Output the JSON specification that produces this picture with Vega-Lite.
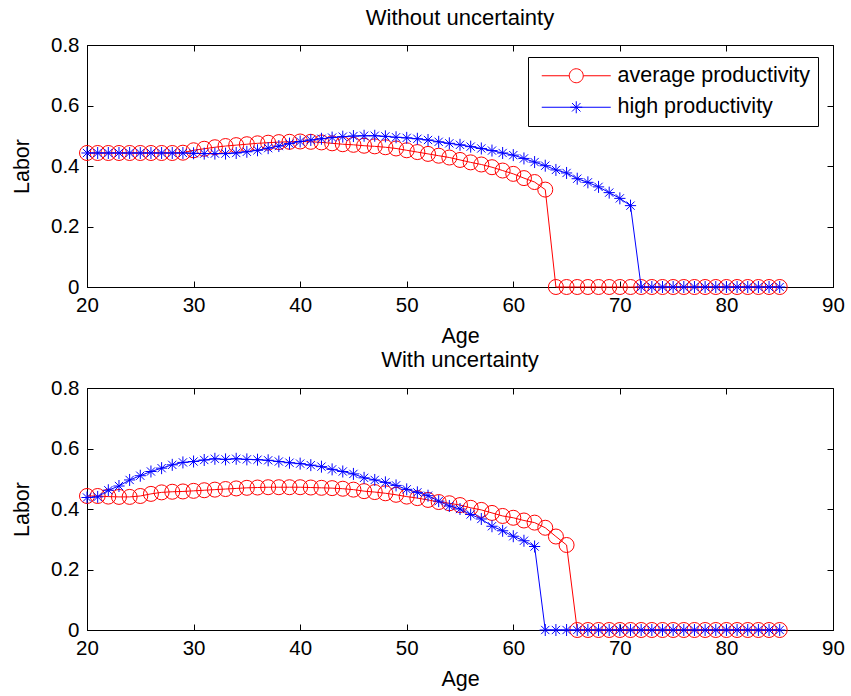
{
  "$schema": "https://vega.github.io/schema/vega-lite/v6.json",
  "background": "white",
  "padding": {"left": 10, "top": 6, "right": 5, "bottom": 5},
  "spacing": 0,
  "config": {
    "font": "Liberation Sans",
    "view": {"stroke": "black", "strokeWidth": 1},
    "axis": {
      "domainColor": "black", "tickColor": "black", "labelColor": "black", "titleColor": "black",
      "labelFontSize": 20.5, "titleFontSize": 21.5, "titleFontWeight": "normal",
      "grid": false, "tickSize": -6, "labelPadding": 14, "labelFlush": false, "labelOverlap": false
    },
    "title": {"fontSize": 22, "fontWeight": "normal", "color": "black", "offset": 8}
  },
  "resolve": {"scale": {"color": "independent", "shape": "independent"}, "legend": {"color": "independent", "shape": "independent"}},
  "datasets": {
    "without": [
      {"age":20,"series":"average productivity","labor":0.443},{"age":21,"series":"average productivity","labor":0.443},{"age":22,"series":"average productivity","labor":0.443},{"age":23,"series":"average productivity","labor":0.443},{"age":24,"series":"average productivity","labor":0.443},{"age":25,"series":"average productivity","labor":0.443},{"age":26,"series":"average productivity","labor":0.443},{"age":27,"series":"average productivity","labor":0.443},{"age":28,"series":"average productivity","labor":0.443},{"age":29,"series":"average productivity","labor":0.444},
      {"age":30,"series":"average productivity","labor":0.452},{"age":31,"series":"average productivity","labor":0.457},{"age":32,"series":"average productivity","labor":0.462},{"age":33,"series":"average productivity","labor":0.466},{"age":34,"series":"average productivity","labor":0.469},{"age":35,"series":"average productivity","labor":0.472},{"age":36,"series":"average productivity","labor":0.475},{"age":37,"series":"average productivity","labor":0.477},{"age":38,"series":"average productivity","labor":0.479},{"age":39,"series":"average productivity","labor":0.480},
      {"age":40,"series":"average productivity","labor":0.481},{"age":41,"series":"average productivity","labor":0.480},{"age":42,"series":"average productivity","labor":0.478},{"age":43,"series":"average productivity","labor":0.475},{"age":44,"series":"average productivity","labor":0.472},{"age":45,"series":"average productivity","labor":0.470},{"age":46,"series":"average productivity","labor":0.467},{"age":47,"series":"average productivity","labor":0.465},{"age":48,"series":"average productivity","labor":0.462},{"age":49,"series":"average productivity","labor":0.458},
      {"age":50,"series":"average productivity","labor":0.452},{"age":51,"series":"average productivity","labor":0.446},{"age":52,"series":"average productivity","labor":0.440},{"age":53,"series":"average productivity","labor":0.434},{"age":54,"series":"average productivity","labor":0.428},{"age":55,"series":"average productivity","labor":0.420},{"age":56,"series":"average productivity","labor":0.412},{"age":57,"series":"average productivity","labor":0.405},{"age":58,"series":"average productivity","labor":0.396},{"age":59,"series":"average productivity","labor":0.385},
      {"age":60,"series":"average productivity","labor":0.374},{"age":61,"series":"average productivity","labor":0.360},{"age":62,"series":"average productivity","labor":0.347},{"age":63,"series":"average productivity","labor":0.322},{"age":64,"series":"average productivity","labor":0},{"age":65,"series":"average productivity","labor":0},{"age":66,"series":"average productivity","labor":0},{"age":67,"series":"average productivity","labor":0},{"age":68,"series":"average productivity","labor":0},{"age":69,"series":"average productivity","labor":0},
      {"age":70,"series":"average productivity","labor":0},{"age":71,"series":"average productivity","labor":0},{"age":72,"series":"average productivity","labor":0},{"age":73,"series":"average productivity","labor":0},{"age":74,"series":"average productivity","labor":0},{"age":75,"series":"average productivity","labor":0},{"age":76,"series":"average productivity","labor":0},{"age":77,"series":"average productivity","labor":0},{"age":78,"series":"average productivity","labor":0},{"age":79,"series":"average productivity","labor":0},
      {"age":80,"series":"average productivity","labor":0},{"age":81,"series":"average productivity","labor":0},{"age":82,"series":"average productivity","labor":0},{"age":83,"series":"average productivity","labor":0},{"age":84,"series":"average productivity","labor":0},{"age":85,"series":"average productivity","labor":0},
      {"age":20,"series":"high productivity","labor":0.443},{"age":21,"series":"high productivity","labor":0.443},{"age":22,"series":"high productivity","labor":0.443},{"age":23,"series":"high productivity","labor":0.443},{"age":24,"series":"high productivity","labor":0.443},{"age":25,"series":"high productivity","labor":0.443},{"age":26,"series":"high productivity","labor":0.443},{"age":27,"series":"high productivity","labor":0.443},{"age":28,"series":"high productivity","labor":0.443},{"age":29,"series":"high productivity","labor":0.443},
      {"age":30,"series":"high productivity","labor":0.442},{"age":31,"series":"high productivity","labor":0.441},{"age":32,"series":"high productivity","labor":0.441},{"age":33,"series":"high productivity","labor":0.441},{"age":34,"series":"high productivity","labor":0.443},{"age":35,"series":"high productivity","labor":0.447},{"age":36,"series":"high productivity","labor":0.452},{"age":37,"series":"high productivity","labor":0.459},{"age":38,"series":"high productivity","labor":0.466},{"age":39,"series":"high productivity","labor":0.474},
      {"age":40,"series":"high productivity","labor":0.481},{"age":41,"series":"high productivity","labor":0.486},{"age":42,"series":"high productivity","labor":0.490},{"age":43,"series":"high productivity","labor":0.494},{"age":44,"series":"high productivity","labor":0.497},{"age":45,"series":"high productivity","labor":0.499},{"age":46,"series":"high productivity","labor":0.500},{"age":47,"series":"high productivity","labor":0.500},{"age":48,"series":"high productivity","labor":0.498},{"age":49,"series":"high productivity","labor":0.495},
      {"age":50,"series":"high productivity","labor":0.493},{"age":51,"series":"high productivity","labor":0.490},{"age":52,"series":"high productivity","labor":0.486},{"age":53,"series":"high productivity","labor":0.480},{"age":54,"series":"high productivity","labor":0.475},{"age":55,"series":"high productivity","labor":0.470},{"age":56,"series":"high productivity","labor":0.464},{"age":57,"series":"high productivity","labor":0.458},{"age":58,"series":"high productivity","labor":0.451},{"age":59,"series":"high productivity","labor":0.443},
      {"age":60,"series":"high productivity","labor":0.436},{"age":61,"series":"high productivity","labor":0.425},{"age":62,"series":"high productivity","labor":0.413},{"age":63,"series":"high productivity","labor":0.401},{"age":64,"series":"high productivity","labor":0.387},{"age":65,"series":"high productivity","labor":0.377},{"age":66,"series":"high productivity","labor":0.358},{"age":67,"series":"high productivity","labor":0.346},{"age":68,"series":"high productivity","labor":0.331},{"age":69,"series":"high productivity","labor":0.312},
      {"age":70,"series":"high productivity","labor":0.293},{"age":71,"series":"high productivity","labor":0.269},{"age":72,"series":"high productivity","labor":0},{"age":73,"series":"high productivity","labor":0},{"age":74,"series":"high productivity","labor":0},{"age":75,"series":"high productivity","labor":0},{"age":76,"series":"high productivity","labor":0},{"age":77,"series":"high productivity","labor":0},{"age":78,"series":"high productivity","labor":0},{"age":79,"series":"high productivity","labor":0},
      {"age":80,"series":"high productivity","labor":0},{"age":81,"series":"high productivity","labor":0},{"age":82,"series":"high productivity","labor":0},{"age":83,"series":"high productivity","labor":0},{"age":84,"series":"high productivity","labor":0},{"age":85,"series":"high productivity","labor":0}
    ],
    "with": [
      {"age":20,"series":"average productivity","labor":0.443},{"age":21,"series":"average productivity","labor":0.443},{"age":22,"series":"average productivity","labor":0.441},{"age":23,"series":"average productivity","labor":0.440},{"age":24,"series":"average productivity","labor":0.440},{"age":25,"series":"average productivity","labor":0.443},{"age":26,"series":"average productivity","labor":0.450},{"age":27,"series":"average productivity","labor":0.455},{"age":28,"series":"average productivity","labor":0.457},{"age":29,"series":"average productivity","labor":0.458},
      {"age":30,"series":"average productivity","labor":0.460},{"age":31,"series":"average productivity","labor":0.462},{"age":32,"series":"average productivity","labor":0.464},{"age":33,"series":"average productivity","labor":0.466},{"age":34,"series":"average productivity","labor":0.468},{"age":35,"series":"average productivity","labor":0.470},{"age":36,"series":"average productivity","labor":0.471},{"age":37,"series":"average productivity","labor":0.472},{"age":38,"series":"average productivity","labor":0.472},{"age":39,"series":"average productivity","labor":0.472},
      {"age":40,"series":"average productivity","labor":0.472},{"age":41,"series":"average productivity","labor":0.471},{"age":42,"series":"average productivity","labor":0.470},{"age":43,"series":"average productivity","labor":0.469},{"age":44,"series":"average productivity","labor":0.467},{"age":45,"series":"average productivity","labor":0.464},{"age":46,"series":"average productivity","labor":0.459},{"age":47,"series":"average productivity","labor":0.456},{"age":48,"series":"average productivity","labor":0.452},{"age":49,"series":"average productivity","labor":0.447},
      {"age":50,"series":"average productivity","labor":0.441},{"age":51,"series":"average productivity","labor":0.436},{"age":52,"series":"average productivity","labor":0.430},{"age":53,"series":"average productivity","labor":0.423},{"age":54,"series":"average productivity","labor":0.419},{"age":55,"series":"average productivity","labor":0.413},{"age":56,"series":"average productivity","labor":0.404},{"age":57,"series":"average productivity","labor":0.397},{"age":58,"series":"average productivity","labor":0.387},{"age":59,"series":"average productivity","labor":0.377},
      {"age":60,"series":"average productivity","labor":0.371},{"age":61,"series":"average productivity","labor":0.362},{"age":62,"series":"average productivity","labor":0.355},{"age":63,"series":"average productivity","labor":0.338},{"age":64,"series":"average productivity","labor":0.309},{"age":65,"series":"average productivity","labor":0.281},{"age":66,"series":"average productivity","labor":0},{"age":67,"series":"average productivity","labor":0},{"age":68,"series":"average productivity","labor":0},{"age":69,"series":"average productivity","labor":0},
      {"age":70,"series":"average productivity","labor":0},{"age":71,"series":"average productivity","labor":0},{"age":72,"series":"average productivity","labor":0},{"age":73,"series":"average productivity","labor":0},{"age":74,"series":"average productivity","labor":0},{"age":75,"series":"average productivity","labor":0},{"age":76,"series":"average productivity","labor":0},{"age":77,"series":"average productivity","labor":0},{"age":78,"series":"average productivity","labor":0},{"age":79,"series":"average productivity","labor":0},
      {"age":80,"series":"average productivity","labor":0},{"age":81,"series":"average productivity","labor":0},{"age":82,"series":"average productivity","labor":0},{"age":83,"series":"average productivity","labor":0},{"age":84,"series":"average productivity","labor":0},{"age":85,"series":"average productivity","labor":0},
      {"age":20,"series":"high productivity","labor":0.438},{"age":21,"series":"high productivity","labor":0.440},{"age":22,"series":"high productivity","labor":0.462},{"age":23,"series":"high productivity","labor":0.476},{"age":24,"series":"high productivity","labor":0.496},{"age":25,"series":"high productivity","labor":0.510},{"age":26,"series":"high productivity","labor":0.524},{"age":27,"series":"high productivity","labor":0.535},{"age":28,"series":"high productivity","labor":0.546},{"age":29,"series":"high productivity","labor":0.554},
      {"age":30,"series":"high productivity","labor":0.557},{"age":31,"series":"high productivity","labor":0.562},{"age":32,"series":"high productivity","labor":0.566},{"age":33,"series":"high productivity","labor":0.564},{"age":34,"series":"high productivity","labor":0.566},{"age":35,"series":"high productivity","labor":0.564},{"age":36,"series":"high productivity","labor":0.563},{"age":37,"series":"high productivity","labor":0.561},{"age":38,"series":"high productivity","labor":0.557},{"age":39,"series":"high productivity","labor":0.553},
      {"age":40,"series":"high productivity","labor":0.550},{"age":41,"series":"high productivity","labor":0.545},{"age":42,"series":"high productivity","labor":0.540},{"age":43,"series":"high productivity","labor":0.531},{"age":44,"series":"high productivity","labor":0.524},{"age":45,"series":"high productivity","labor":0.516},{"age":46,"series":"high productivity","labor":0.503},{"age":47,"series":"high productivity","labor":0.496},{"age":48,"series":"high productivity","labor":0.488},{"age":49,"series":"high productivity","labor":0.478},
      {"age":50,"series":"high productivity","labor":0.465},{"age":51,"series":"high productivity","labor":0.455},{"age":52,"series":"high productivity","labor":0.444},{"age":53,"series":"high productivity","labor":0.426},{"age":54,"series":"high productivity","labor":0.410},{"age":55,"series":"high productivity","labor":0.400},{"age":56,"series":"high productivity","labor":0.382},{"age":57,"series":"high productivity","labor":0.367},{"age":58,"series":"high productivity","labor":0.343},{"age":59,"series":"high productivity","labor":0.328},
      {"age":60,"series":"high productivity","labor":0.310},{"age":61,"series":"high productivity","labor":0.295},{"age":62,"series":"high productivity","labor":0.276},{"age":63,"series":"high productivity","labor":0},{"age":64,"series":"high productivity","labor":0},{"age":65,"series":"high productivity","labor":0},{"age":66,"series":"high productivity","labor":0},{"age":67,"series":"high productivity","labor":0},{"age":68,"series":"high productivity","labor":0},{"age":69,"series":"high productivity","labor":0},
      {"age":70,"series":"high productivity","labor":0},{"age":71,"series":"high productivity","labor":0},{"age":72,"series":"high productivity","labor":0},{"age":73,"series":"high productivity","labor":0},{"age":74,"series":"high productivity","labor":0},{"age":75,"series":"high productivity","labor":0},{"age":76,"series":"high productivity","labor":0},{"age":77,"series":"high productivity","labor":0},{"age":78,"series":"high productivity","labor":0},{"age":79,"series":"high productivity","labor":0},
      {"age":80,"series":"high productivity","labor":0},{"age":81,"series":"high productivity","labor":0},{"age":82,"series":"high productivity","labor":0},{"age":83,"series":"high productivity","labor":0},{"age":84,"series":"high productivity","labor":0},{"age":85,"series":"high productivity","labor":0}
    ]
  },
  "vconcat": [
    {
      "title": {"text": "Without uncertainty", "offset": 5},
      "width": 746, "height": 242,
      "data": {"name": "without"},
      "resolve": {"axis": {"x": "independent", "y": "independent"}},
      "encoding": {
        "x": {"field": "age", "type": "quantitative", "scale": {"domain": [20, 90], "nice": false, "zero": false}},
        "y": {"field": "labor", "type": "quantitative", "scale": {"domain": [0, 0.8], "nice": false}}
      },
      "layer": [
        {
          "transform": [{"filter": "datum.series === 'average productivity'"}],
          "mark": {"type": "line", "strokeWidth": 1, "color": "#ff0000"},
          "encoding": {
            "x": {"field": "age", "type": "quantitative", "axis": {"values": [20,30,40,50,60,70,80,90], "format": "d", "title": "Age", "titlePadding": 10}},
            "y": {"field": "labor", "type": "quantitative", "axis": {"values": [0,0.2,0.4,0.6,0.8], "format": ".1~f", "title": "Labor", "titlePadding": 17.5}}
          }
        },
        {
          "transform": [{"filter": "datum.series === 'average productivity'"}],
          "mark": {"type": "point", "filled": false, "strokeWidth": 1, "opacity": 1, "size": 225, "shape": "circle", "color": "#ff0000"},
          "encoding": {
            "x": {"field": "age", "type": "quantitative", "axis": {"orient": "top", "labels": false, "title": null, "domain": false, "values": [20,30,40,50,60,70,80,90]}},
            "y": {"field": "labor", "type": "quantitative", "axis": {"orient": "right", "labels": false, "title": null, "domain": false, "values": [0,0.2,0.4,0.6,0.8]}}
          }
        },
        {
          "transform": [{"filter": "datum.series === 'high productivity'"}],
          "mark": {"type": "line", "strokeWidth": 1, "color": "#0000ff"},
          "encoding": {
            "x": {"field": "age", "type": "quantitative", "axis": null},
            "y": {"field": "labor", "type": "quantitative", "axis": null}
          }
        },
        {
          "transform": [{"filter": "datum.series === 'high productivity'"}],
          "mark": {"type": "point", "filled": false, "strokeWidth": 1, "opacity": 1, "size": 225, "shape": "M0,-0.8L0,0.8M-0.75,0L0.75,0M-0.55,-0.55L0.55,0.55M-0.55,0.55L0.55,-0.55", "color": "#0000ff"},
          "encoding": {
            "x": {"field": "age", "type": "quantitative", "axis": null},
            "y": {"field": "labor", "type": "quantitative", "axis": null}
          }
        },
        {
          "transform": [{"filter": "datum.age > 1000"}],
          "mark": {"type": "point", "filled": false, "strokeWidth": 1, "opacity": 1},
          "encoding": {
            "x": {"field": "age", "type": "quantitative", "axis": null},
            "y": {"field": "labor", "type": "quantitative", "axis": null},
            "color": {"field": "series", "type": "nominal", "scale": {"domain": ["average productivity","high productivity"], "range": ["#ff0000","#0000ff"]},
              "legend": {
                "title": null, "orient": "none", "legendX": 441, "legendY": 12,
                "strokeColor": "black", "fillColor": "white", "padding": 8, "rowPadding": 8.5,
                "labelFontSize": 21.5, "labelColor": "black", "labelFont": "Liberation Sans", "labelLimit": 400,
                "symbolSize": 100, "labelOffset": 60, "symbolStrokeWidth": 1, "symbolOpacity": 1
              }},
            "shape": {"field": "series", "type": "nominal", "scale": {"domain": ["average productivity","high productivity"], "range": ["M-1,0L4.5,0M7.3,0L12.8,0M7.3,0A1.4,1.4,0,1,1,4.5,0A1.4,1.4,0,1,1,7.3,0", "M-1,0L12.8,0M5.9,-1.2L5.9,1.2M4.7,0L7.1,0M5.05,-0.85L6.75,0.85M5.05,0.85L6.75,-0.85"]},
              "legend": {
                "title": null, "orient": "none", "legendX": 441, "legendY": 12,
                "strokeColor": "black", "fillColor": "white", "padding": 8, "rowPadding": 8.5,
                "labelFontSize": 21.5, "labelColor": "black", "labelFont": "Liberation Sans", "labelLimit": 400,
                "symbolSize": 100, "labelOffset": 60, "symbolStrokeWidth": 1, "symbolOpacity": 1
              }}
          }
        }
      ]
    },
    {
      "title": {"text": "With uncertainty", "offset": 6},
      "width": 746, "height": 242,
      "data": {"name": "with"},
      "resolve": {"axis": {"x": "independent", "y": "independent"}},
      "encoding": {
        "x": {"field": "age", "type": "quantitative", "scale": {"domain": [20, 90], "nice": false, "zero": false}},
        "y": {"field": "labor", "type": "quantitative", "scale": {"domain": [0, 0.8], "nice": false}}
      },
      "layer": [
        {
          "transform": [{"filter": "datum.series === 'average productivity'"}],
          "mark": {"type": "line", "strokeWidth": 1, "color": "#ff0000"},
          "encoding": {
            "x": {"field": "age", "type": "quantitative", "axis": {"values": [20,30,40,50,60,70,80,90], "format": "d", "title": "Age", "titlePadding": 10}},
            "y": {"field": "labor", "type": "quantitative", "axis": {"values": [0,0.2,0.4,0.6,0.8], "format": ".1~f", "title": "Labor", "titlePadding": 17.5}}
          }
        },
        {
          "transform": [{"filter": "datum.series === 'average productivity'"}],
          "mark": {"type": "point", "filled": false, "strokeWidth": 1, "opacity": 1, "size": 225, "shape": "circle", "color": "#ff0000"},
          "encoding": {
            "x": {"field": "age", "type": "quantitative", "axis": {"orient": "top", "labels": false, "title": null, "domain": false, "values": [20,30,40,50,60,70,80,90]}},
            "y": {"field": "labor", "type": "quantitative", "axis": {"orient": "right", "labels": false, "title": null, "domain": false, "values": [0,0.2,0.4,0.6,0.8]}}
          }
        },
        {
          "transform": [{"filter": "datum.series === 'high productivity'"}],
          "mark": {"type": "line", "strokeWidth": 1, "color": "#0000ff"},
          "encoding": {
            "x": {"field": "age", "type": "quantitative", "axis": null},
            "y": {"field": "labor", "type": "quantitative", "axis": null}
          }
        },
        {
          "transform": [{"filter": "datum.series === 'high productivity'"}],
          "mark": {"type": "point", "filled": false, "strokeWidth": 1, "opacity": 1, "size": 225, "shape": "M0,-0.8L0,0.8M-0.75,0L0.75,0M-0.55,-0.55L0.55,0.55M-0.55,0.55L0.55,-0.55", "color": "#0000ff"},
          "encoding": {
            "x": {"field": "age", "type": "quantitative", "axis": null},
            "y": {"field": "labor", "type": "quantitative", "axis": null}
          }
        }
      ]
    }
  ]
}
